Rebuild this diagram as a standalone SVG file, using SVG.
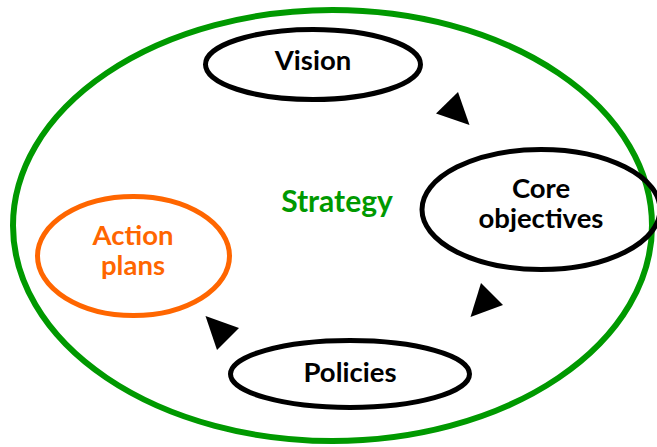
<svg xmlns="http://www.w3.org/2000/svg" width="657" height="447" viewBox="0 0 657 447">
<style>
  .node { fill: none; stroke: #000; stroke-width: 5; }
  .lbl { font-family: Lato, "Open Sans", sans-serif; font-weight: bold; font-size: 27.5px; text-anchor: middle; fill: #000; }
  .arrow { fill: #000; stroke: none; }
</style>
<rect width="657" height="447" fill="#fff"/>
<g id="strategy">
  <ellipse cx="332.5" cy="225.5" rx="319.5" ry="215.5" fill="none" stroke="#009900" stroke-width="6"/>
  <text class="lbl" x="337" y="212" style="fill:#009900;font-size:30px">Strategy</text>
</g>
<g id="vision">
  <ellipse class="node" cx="313" cy="64.5" rx="107.5" ry="35"/>
  <text class="lbl" x="313" y="70">Vision</text>
</g>
<g id="core-objectives">
  <ellipse class="node" cx="541" cy="209.5" rx="119" ry="60"/>
  <text class="lbl" x="541" y="198">Core</text>
  <text class="lbl" x="541" y="228">objectives</text>
</g>
<g id="policies">
  <ellipse class="node" cx="350" cy="374" rx="119.5" ry="33.5"/>
  <text class="lbl" x="350" y="382">Policies</text>
</g>
<g id="action-plans">
  <ellipse cx="133.5" cy="256" rx="96" ry="59.5" fill="none" stroke="#FF6600" stroke-width="5"/>
  <text class="lbl" x="133" y="245" style="fill:#FF6600">Action</text>
  <text class="lbl" x="133" y="275" style="fill:#FF6600">plans</text>
</g>
<g id="connectors">
  <polygon class="arrow" points="458,92 469.5,125 436,113.5"/>
  <polygon class="arrow" points="481,283 503,305 470.5,317"/>
  <polygon class="arrow" points="205.5,316 239,328 217,350"/>
</g>
</svg>
